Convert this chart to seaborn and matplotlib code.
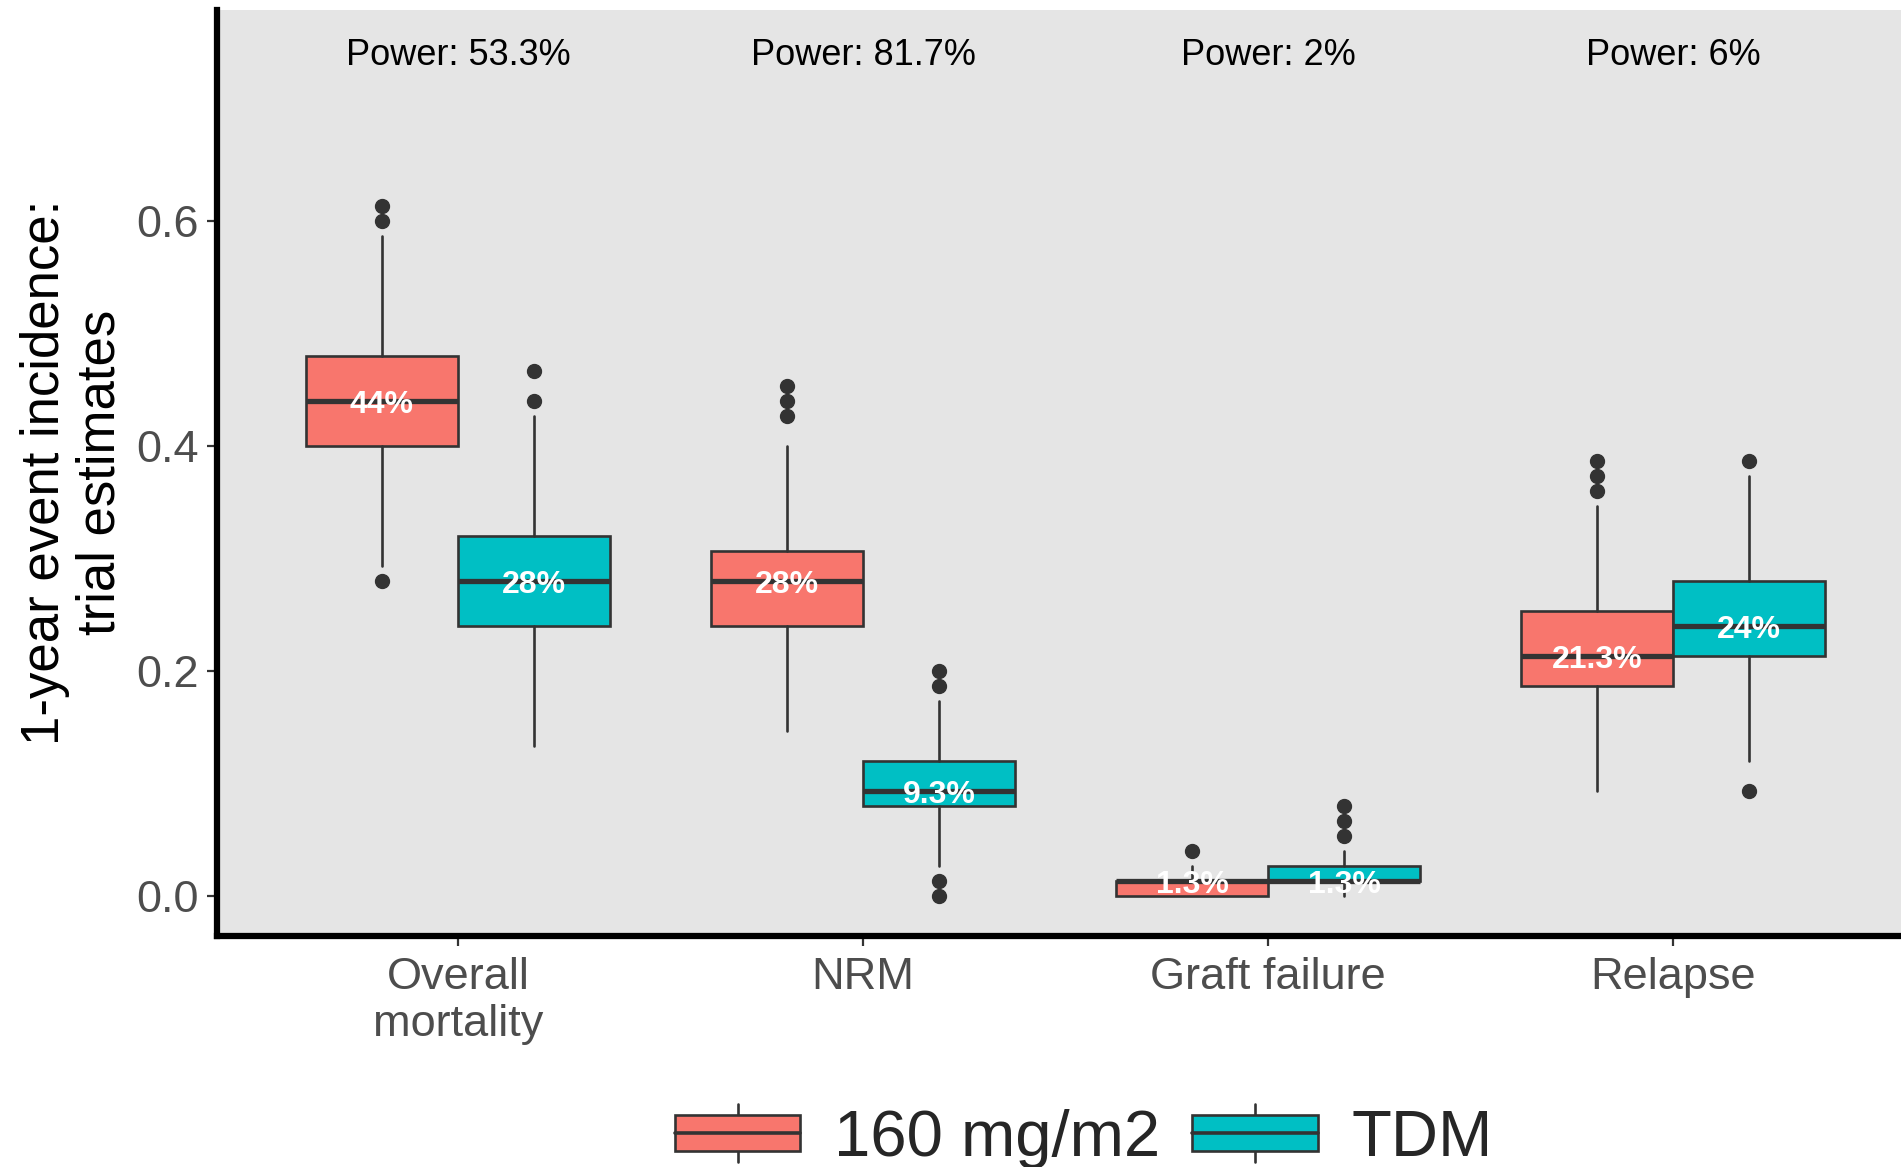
import matplotlib
matplotlib.use("Agg")
import matplotlib.pyplot as plt
import matplotlib.transforms as mtransforms
import seaborn as sns
from matplotlib.patches import Patch, Rectangle
from matplotlib.lines import Line2D
from matplotlib.legend_handler import HandlerBase

# ---------------- data ----------------
categories = ["Overall\nmortality", "NRM", "Graft failure", "Relapse"]
groups = ["160 mg/m2", "TDM"]
power_labels = ["Power: 53.3%", "Power: 81.7%", "Power: 2%", "Power: 6%"]
arm_n = 75  # patients per arm; estimates are event counts / 75

# box statistics as event counts (value = count / arm_n)
q1_160 = [30, 18, 0, 14]
med_160 = [33, 21, 1, 16]
q3_160 = [36, 23, 1, 19]
lo_160 = [22, 11, 0, 7]
hi_160 = [44, 30, 2, 26]
fliers_160 = [[21, 45, 46], [32, 33, 34], [3], [27, 28, 29]]

q1_tdm = [18, 6, 1, 16]
med_tdm = [21, 7, 1, 18]
q3_tdm = [24, 9, 2, 21]
lo_tdm = [10, 2, 0, 9]
hi_tdm = [32, 13, 3, 28]
fliers_tdm = [[33, 35], [0, 1, 14, 15], [4, 5, 6], [7, 29]]

power_y = 0.75
yticks = [0.0, 0.2, 0.4, 0.6]
ytick_labels = ["0.0", "0.2", "0.4", "0.6"]

colors = sns.color_palette(["#F8766D", "#00BFC4"])
edge = "#333333"

# ---------------- style ----------------
sns.set_style("white")
plt.rcParams["font.family"] = ["Liberation Sans", "DejaVu Sans"]

W, H = 1901, 1167
fig = plt.figure(figsize=(W / 100, H / 100), dpi=100)
ax_l, ax_r, ax_t, ax_b = 216.5, 1901, 10, 936
ax = fig.add_axes([ax_l / W, 1 - ax_b / H, (ax_r - ax_l) / W, (ax_b - ax_t) / H])
ax.set_facecolor("#E5E5E5")


def make_stats(q1, med, q3, lo, hi, fl):
    out = []
    for i in range(len(q1)):
        out.append(dict(q1=q1[i] / arm_n, med=med[i] / arm_n, q3=q3[i] / arm_n,
                        whislo=lo[i] / arm_n, whishi=hi[i] / arm_n,
                        fliers=[v / arm_n for v in fl[i]]))
    return out


group_stats = [make_stats(q1_160, med_160, q3_160, lo_160, hi_160, fliers_160),
               make_stats(q1_tdm, med_tdm, q3_tdm, lo_tdm, hi_tdm, fliers_tdm)]
box_w = 0.375
offsets = [-box_w / 2, box_w / 2]
lw = 1.9

label_shift = mtransforms.ScaledTranslation(0, -3 / 72, fig.dpi_scale_trans)
power_shift = mtransforms.ScaledTranslation(0, -3 / 72, fig.dpi_scale_trans)

for g, stats in enumerate(group_stats):
    pos = [i + offsets[g] for i in range(len(categories))]
    ax.bxp(stats, positions=pos, widths=box_w, patch_artist=True, showcaps=False,
           boxprops=dict(facecolor=colors[g], edgecolor=edge, linewidth=lw),
           medianprops=dict(color=edge, linewidth=3.8, solid_capstyle="butt"),
           whiskerprops=dict(color=edge, linewidth=lw),
           flierprops=dict(marker="o", markersize=10, markerfacecolor=edge,
                           markeredgecolor=edge, linestyle="none"),
           manage_ticks=False, zorder=2)
    for i, st in enumerate(stats):
        pct = round(st["med"] * 100, 1)
        ax.text(pos[i], st["med"], f"{pct:g}%", ha="center", va="center",
                color="white", fontsize=23, fontweight="bold", zorder=5,
                transform=ax.transData + label_shift)

for i, lab in enumerate(power_labels):
    ax.text(i, power_y, lab, ha="center", va="center", fontsize=26, color="black",
            transform=ax.transData + power_shift)

# ---------------- axes ----------------
ax.set_xlim(-0.596, 3.562)
ax.set_ylim(-0.0355, 0.787)
ax.set_xticks(range(len(categories)))
ax.set_xticklabels(categories)
ax.set_yticks(yticks)
ax.set_yticklabels(ytick_labels)
for s in ["top", "right"]:
    ax.spines[s].set_visible(False)
for s in ["left", "bottom"]:
    ax.spines[s].set_color("black")
    ax.spines[s].set_linewidth(4.5)
ax.tick_params(axis="both", which="major", length=7, width=1.6, color=edge,
               labelsize=32.5, labelcolor="#4D4D4D", direction="out",
               left=True, bottom=True)
ax.tick_params(axis="y", pad=6)
ax.tick_params(axis="x", pad=8)
for t in ax.get_xticklabels():
    t.set_linespacing(1.2)
ax.grid(False)

fig.text(73 / W, 1 - 472 / H, "1-year event incidence:\ntrial estimates", rotation=90,
         ha="center", va="center", fontsize=38, color="black", linespacing=1.15)


# ---------------- legend ----------------
class BoxHandler(HandlerBase):
    def create_artists(self, legend, orig_handle, xdescent, ydescent, width, height,
                       fontsize, trans):
        fc = orig_handle.get_facecolor()
        cy = -ydescent + height / 2
        x0 = -xdescent
        bh = 26
        wh = 21
        rect = Rectangle((x0, cy - bh / 2), width, bh, facecolor=fc, edgecolor=edge,
                         linewidth=lw, transform=trans)
        med = Line2D([x0, x0 + width], [cy, cy], color=edge, linewidth=2.6, transform=trans)
        xc = x0 + width / 2
        w1 = Line2D([xc, xc], [cy + bh / 2, cy + wh], color=edge, linewidth=lw, transform=trans)
        w2 = Line2D([xc, xc], [cy - bh / 2, cy - wh], color=edge, linewidth=lw, transform=trans)
        return [w1, w2, rect, med]


handles = [Patch(facecolor=colors[g], label=groups[g]) for g in range(len(groups))]
fig.legend(handles=handles, labels=groups, handler_map={Patch: BoxHandler()},
           loc="center", bbox_to_anchor=(1084 / W, 1 - 1139 / H), ncol=2,
           frameon=False, fontsize=47, handlelength=1.92, handleheight=0.7,
           handletextpad=0.52, columnspacing=0.49, borderpad=0, borderaxespad=0)

fig.savefig("out.png", dpi=100)
